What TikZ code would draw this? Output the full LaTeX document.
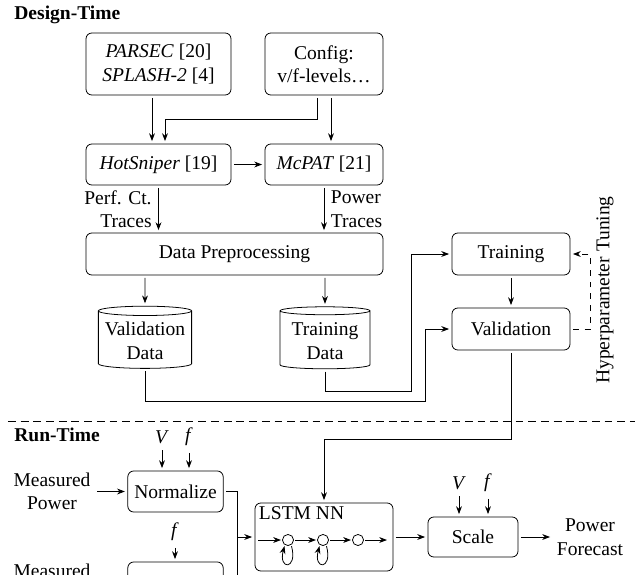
\documentclass[tikz,border=0pt]{standalone}
\usepackage{fontspec}
\setmainfont{Liberation Serif}
\usetikzlibrary{arrows.meta,shapes.geometric}

\tikzset{
  >={Stealth[length=4pt,width=3pt]},
  box/.style={draw, rounded corners=3pt, align=center, outer sep=1.5pt},
  store/.style={draw, cylinder, shape border rotate=90, aspect=0.1, align=center,
    outer sep=1.5pt, minimum width=1.62cm, minimum height=1.116cm},
  cell/.style={draw, circle, minimum size=0.2cm, inner sep=0pt, outer sep=0.75pt},
}

\begin{document}
\begin{tikzpicture}
  \useasboundingbox (0,0) rectangle (11.43,10.332);
  \clip (0,0) rectangle (11.43,10.332);

  % design-time
  \node[anchor=west] (design) at (0.135,10.062) {\textbf{Design-Time}};
  \node[box, minimum width=2.61cm, minimum height=1.116cm] (bench) at (2.853,9.18)
    {\textit{PARSEC} [20]\\\textit{SPLASH-2} [4]};
  \node[box, minimum width=2.124cm, minimum height=1.116cm] (config) at (5.832,9.18)
    {Config:\\v/f-levels\ldots};
  \node[box, minimum width=2.61cm, minimum height=0.738cm] (hotsniper) at (2.853,7.371)
    {\textit{HotSniper} [19]};
  \node[box, minimum width=2.124cm, minimum height=0.738cm] (mcpat) at (5.832,7.371)
    {\textit{McPAT} [21]};
  \node[box, minimum width=5.346cm, minimum height=0.756cm] (prep) at (4.221,5.76)
    {Data Preprocessing};
  \node[store] (valdata) at (2.61,4.194) {Validation\\Data};
  \node[store] (traindata) at (5.85,4.194) {Training\\Data};
  \node[box, minimum width=2.124cm, minimum height=0.756cm] (training) at (9.198,5.76) {Training};
  \node[box, minimum width=2.124cm, minimum height=0.756cm] (validation) at (9.198,4.41) {Validation};
  \node[rotate=90] (tuning) at (10.89,5.112) {Hyperparameter Tuning};

  \draw[->] ([xshift=-0.117cm]bench.south) -- ([xshift=-0.117cm]hotsniper.north);
  \draw[->] ([xshift=-0.126cm]config.south) -- ++(0,-0.378) -| ([xshift=0.117cm]hotsniper.north);
  \draw[->] ([xshift=0.126cm]config.south) -- ([xshift=0.126cm]mcpat.north);
  \draw[->] (hotsniper) -- (mcpat);
  \draw[->] (hotsniper) -- (hotsniper |- prep.north)
    node[midway, left, align=right] {Perf. Ct.\\Traces};
  \draw[->] (mcpat) -- (mcpat |- prep.north)
    node[midway, right, align=left] {Power\\Traces};
  \draw[->] (valdata |- prep.south) -- (valdata);
  \draw[->] (traindata |- prep.south) -- (traindata);
  \draw[->] (traindata) |- (7.398,3.294) |- (training);
  \draw[->] (valdata) |- (7.65,3.114) |- (validation);
  \draw[->] (training) -- (validation);
  \draw[->, dashed] (validation) -| (10.62,5.76) -- (training);

  % run-time
  \draw[dash pattern=on 4pt off 2.5pt] (0.144,2.754) -- (11.43,2.754);
  \node[anchor=west] (runtime) at (0.135,2.502) {\textbf{Run-Time}};
  \node[align=center] (meas1) at (0.936,1.485) {Measured\\Power};
  \node[box, minimum width=1.638cm, minimum height=0.738cm] (norm1) at (3.159,1.485) {Normalize};
  \node (v1) at (2.916,2.466) {\textit{V}};
  \node (f1) at (3.402,2.466) {\textit{f}};
  \node (f2) at (3.15,0.756) {\textit{f}};
  \node[box, minimum width=1.638cm, minimum height=0.738cm] (norm2) at (3.159,-0.153) {Normalize};
  \node (meas2) at (0.936,0.054) {Measured};
  \coordinate (join) at (4.266,0.666);
  \node[box, minimum width=2.484cm, minimum height=1.224cm] (lstm) at (5.832,0.666) {};
  \node[anchor=north west] (lstmname) at (lstm.north west) {LSTM NN};
  \node[cell] (c1) at (5.184,0.612) {};
  \node[cell] (c2) at (5.814,0.612) {};
  \node[cell] (c3) at (6.444,0.612) {};
  \coordinate (cellin) at (4.644,0.612);
  \coordinate (cellout) at (6.966,0.612);
  \node[box, minimum width=1.62cm, minimum height=0.72cm] (scale) at (8.514,0.666) {Scale};
  \node (v2) at (8.262,1.638) {\textit{V}};
  \node (f3) at (8.784,1.638) {\textit{f}};
  \node[align=center] (forecast) at (10.62,0.666) {Power\\Forecast};

  \draw[->] (meas1) -- (norm1);
  \draw[->] (v1) -- (v1 |- norm1.north);
  \draw[->] (f1) -- (f1 |- norm1.north);
  \draw[->] (f2) -- (f2 |- norm2.north);
  \draw (norm1) -| (join);
  \draw (norm2) -| (join);
  \draw[->] (join) -- (lstm);
  \draw[->] (validation) |- (5.832,2.43) -- (lstm);
  \draw[->] (cellin) -- (c1);
  \draw[->] (c1) -- (c2);
  \draw[->] (c2) -- (c3);
  \draw[->] (c3) -- (cellout);
  \foreach \c in {c1,c2}
    \draw[->] (\c.-60) .. controls +(-75:0.45) and +(-105:0.45) .. (\c.-120);
  \draw[->] (lstm) -- (scale);
  \draw[->] (scale) -- (forecast);
  \draw[->] (v2) -- (v2 |- scale.north);
  \draw[->] (f3) -- (f3 |- scale.north);
\end{tikzpicture}
\end{document}
